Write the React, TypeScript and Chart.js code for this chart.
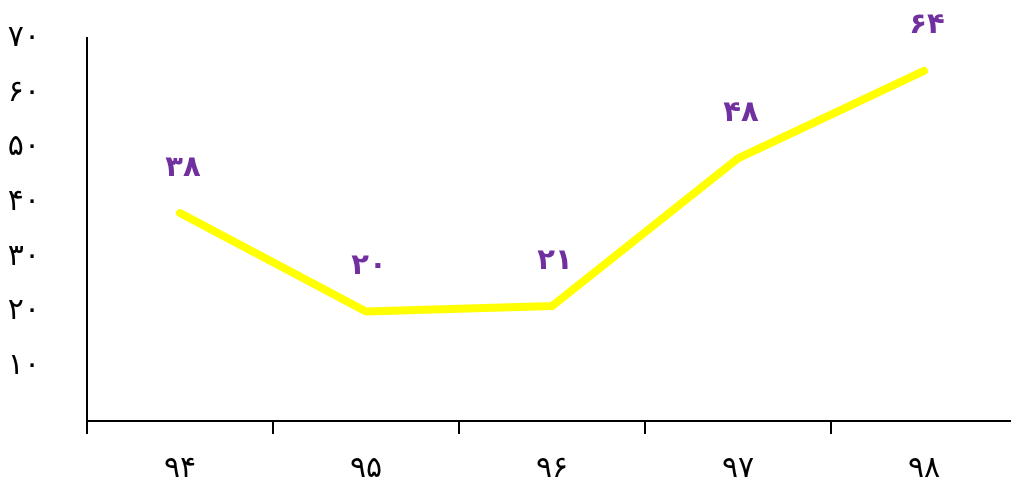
import React, { useEffect, useRef } from "react";
import { Chart, registerables } from "chart.js";

Chart.register(...registerables);

const categories = ["94", "95", "96", "97", "98"];
const values = [38, 20, 21, 48, 64];
const yTicks = [10, 20, 30, 40, 50, 60, 70];

const FA_DIGITS = "۰۱۲۳۴۵۶۷۸۹";
const toFa = (s: string | number) =>
  String(s).replace(/[0-9]/g, (d) => FA_DIGITS[Number(d)]);

const FONT = "'DejaVu Sans', sans-serif";

export default function App() {
  const ref = useRef<HTMLCanvasElement | null>(null);

  useEffect(() => {
    document.body.style.margin = "0";
    document.body.style.overflow = "hidden";
    document.documentElement.style.overflow = "hidden";
    const canvas = ref.current;
    if (!canvas) return;

    const labelPlugin = {
      id: "pointLabels",
      afterDatasetsDraw(chart: any) {
        const ctx = chart.ctx;
        const meta = chart.getDatasetMeta(0);
        ctx.save();
        ctx.fillStyle = "#7030A0";
        ctx.font = `bold 29px ${FONT}`;
        ctx.textAlign = "center";
        ctx.textBaseline = "middle";
        meta.data.forEach((pt: any, i: number) => {
          ctx.fillText(toFa(values[i]), pt.x + 3, pt.y - 45);
        });
        ctx.restore();
      },
    };

    const chart = new Chart(canvas, {
      type: "line",
      data: {
        labels: categories.map(toFa),
        datasets: [
          {
            data: values,
            borderColor: "#FFFF00",
            borderWidth: 8,
            borderCapStyle: "round",
            borderJoinStyle: "round",
            pointRadius: 0,
            tension: 0,
            fill: false,
          },
        ],
      },
      options: {
        animation: false,
        responsive: false,
        devicePixelRatio: 1,
        layout: { padding: { top: 38, right: 0, left: 0, bottom: 0 } },
        plugins: {
          legend: { display: false },
          tooltip: { enabled: false },
        },
        scales: {
          x: {
            type: "category",
            offset: true,
            grid: {
              display: true,
              offset: true,
              drawOnChartArea: false,
              drawTicks: true,
              tickLength: 13,
              color: "#000",
              lineWidth: 2,
            },
            border: { display: true, color: "#000", width: 2 },
            ticks: {
              color: "#000",
              font: { family: FONT, size: 30 },
              padding: 17,
              maxRotation: 0,
            },
            afterFit: (scale: any) => {
              scale.height = 74;
            },
          },
          y: {
            min: 0,
            max: 70,
            grid: { display: false, drawTicks: true, tickLength: 47 },
            border: { display: true, color: "#000", width: 2 },
            ticks: {
              stepSize: 10,
              color: "#000",
              font: { family: FONT, size: 30 },
              padding: 0,
              callback: (v: any) =>
                yTicks.includes(Number(v)) ? toFa(v) : "",
            },
            afterFit: (scale: any) => {
              scale.width = 87;
            },
          },
        },
      },
      plugins: [labelPlugin],
    } as any);

    return () => chart.destroy();
  }, []);

  return (
    <div style={{ position: "absolute", left: 0, top: 0, width: 1017, height: 495 }}>
      <canvas ref={ref} width={1017} height={495} style={{ display: "block" }} />
    </div>
  );
}
